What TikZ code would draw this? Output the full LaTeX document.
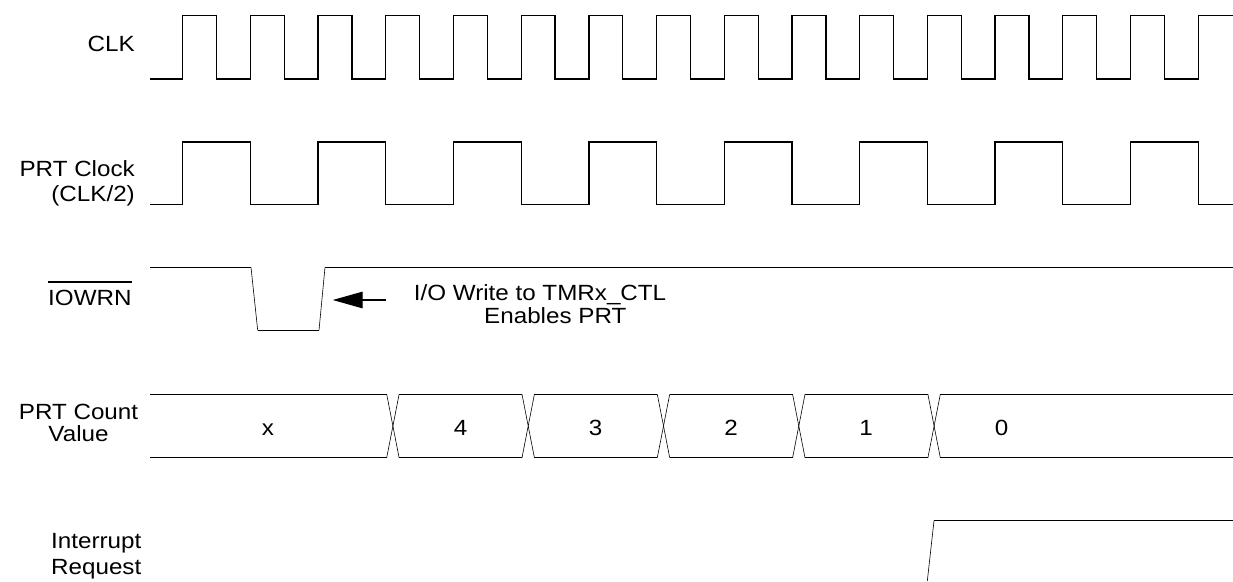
\documentclass[tikz,border=0pt]{standalone}
\usepackage{fontspec}
\setmainfont{Liberation Sans}[FakeStretch=1.1]
\usetikzlibrary{arrows.meta}
\begin{document}
\begin{tikzpicture}[x=1pt,y=-1pt,
  sig/.style={line width=1.3pt,line join=miter,line cap=butt},
  edge/.style={line width=0.6pt},
  lbl/.style={inner sep=0pt,font=\fontsize{22}{24}\selectfont},
  val/.style={inner sep=0pt,anchor=base,font=\fontsize{22}{24}\selectfont}]
\useasboundingbox (0,0) rectangle (1233,581);
% labels
\node[lbl,anchor=base east] (clk) at (135,51.7) {CLK};
\node[lbl,anchor=base east] (prt1) at (135,176.7) {PRT Clock};
\node[lbl,anchor=base east] (prt2) at (135,201) {(CLK/2)};
\node[lbl,anchor=base west] (iow) at (48,305) {IOWRN};
\draw[line width=1.3pt] ([yshift=7.5pt]iow.north west) -- ([yshift=7.5pt]iow.north east);
\node[lbl,anchor=base] (cnt1) at (78.5,419) {PRT Count};
\node[lbl,anchor=base] (cnt2) at (78.5,441.7) {Value};
\node[lbl,anchor=base west] (irq1) at (51,548.3) {Interrupt};
\node[lbl,anchor=base west] (irq2) at (51,574) {Request};
% CLK
\draw[sig] (150,79) foreach \k in {0,...,14} {
  -- ({182.7+67.7*\k},79) -- ({182.7+67.7*\k},15.7) -- ({216.55+67.7*\k},15.7) -- ({216.55+67.7*\k},79)}
  -- (1198.2,79) -- (1198.2,15.7) -- (1233,15.7);
% PRT clock
\draw[sig] (150,204.3) foreach \j in {0,...,7} {
  -- ({182.7+135.4*\j},204.3) -- ({182.7+135.4*\j},142) -- ({250.4+135.4*\j},142) -- ({250.4+135.4*\j},204.3)}
  -- (1233,204.3);
% IOWRN
\draw[sig] (150,267.3) -- (251,267.3);
\draw[edge] (251,267.3) -- (257.7,330.3);
\draw[sig] (257.7,330.3) -- (319,330.3);
\draw[edge] (319,330.3) -- (325,267.3);
\draw[sig] (325,267.3) -- (1233,267.3);
\coordinate (atail) at (385.7,300);
\coordinate (ahead) at (332.7,300);
\draw[line width=1.3pt,-{Triangle[length=30pt,width=16.5pt]}] (atail) -- (ahead);
\node[lbl,anchor=base] (note1) at (540,300.7) {I/O Write to TMRx\_CTL};
\node[lbl,anchor=base] (note2) at (555.3,323) {Enables PRT};
% PRT count
\draw[sig] (150,394.3) -- (386.7,394.3);
\draw[sig] (150,457.7) -- (386.7,457.7);
\foreach \i in {0,...,4} {
  \pgfmathsetmacro{\a}{386.7+135.3*\i}
  \pgfmathsetmacro{\b}{\a+12.4}
  \draw[edge] (\a,394.3) -- (\b,457.7);
  \draw[edge] (\a,457.7) -- (\b,394.3);
}
\foreach \i in {0,...,3} {
  \pgfmathsetmacro{\b}{399.1+135.3*\i}
  \pgfmathsetmacro{\c}{386.7+135.3*(\i+1)}
  \draw[sig] (\b,394.3) -- (\c,394.3);
  \draw[sig] (\b,457.7) -- (\c,457.7);
}
\draw[sig] (940.3,394.3) -- (1233,394.3);
\draw[sig] (940.3,457.7) -- (1233,457.7);
\node[val] (vx) at (268,435) {x};
\node[val] (v4) at (460.6,435) {4};
\node[val] (v3) at (595.7,435) {3};
\node[val] (v2) at (731,435) {2};
\node[val] (v1) at (866,435) {1};
\node[val] (v0) at (1001.7,435) {0};
% Interrupt
\draw[edge] (927.3,581) -- (934,520.7);
\draw[sig] (934,520.7) -- (1233,520.7);
\end{tikzpicture}
\end{document}
